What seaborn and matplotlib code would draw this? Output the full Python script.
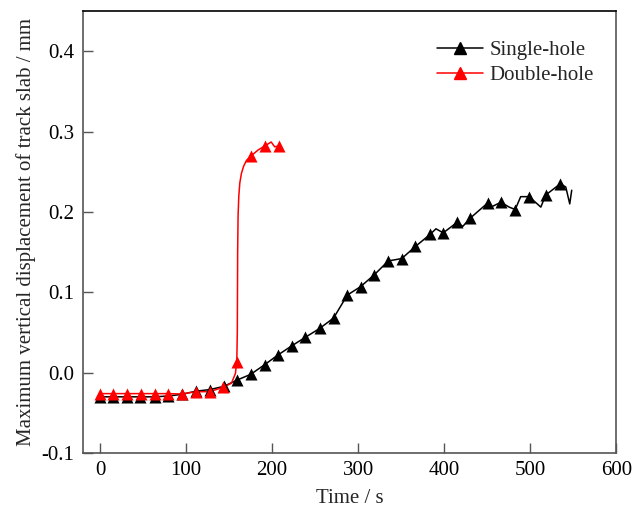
import matplotlib
matplotlib.use("Agg")
import matplotlib.pyplot as plt
import pandas as pd
import seaborn as sns
from matplotlib.lines import Line2D

# marker points (time in s, displacement in mm)
SINGLE_MARK_T = [0, 15.5, 31, 46.4, 63.8, 79.2, 94.8, 111.4, 127.6, 143.9, 159.7, 175.2,
                 191.4, 206.8, 223, 238.6, 255.2, 271.5, 287.4, 302.8, 319, 335, 350.7,
                 366.6, 383.6, 399, 415, 430, 450.5, 466, 482.6, 498.8, 518, 535]
SINGLE_MARK_D = [-0.030, -0.030, -0.030, -0.030, -0.030, -0.029, -0.027, -0.023, -0.021,
                 -0.017, -0.009, -0.002, 0.010, 0.022, 0.0335, 0.044, 0.055, 0.068, 0.0965,
                 0.107, 0.122, 0.139, 0.142, 0.157, 0.172, 0.174, 0.187, 0.192, 0.211,
                 0.212, 0.203, 0.219, 0.221, 0.235]
# extra points on the curve between markers (wiggles, tail)
SINGLE_EXTRA_T = [390.5, 421.7, 454.4, 475.6, 489, 512.4, 541.4, 546, 548.3]
SINGLE_EXTRA_D = [0.179, 0.182, 0.206, 0.206, 0.219, 0.206, 0.231, 0.210, 0.227]

DOUBLE_MARK_T = [0, 15.5, 31, 47.2, 63.8, 79.2, 94.8, 111.4, 127.6, 143.5, 159, 176, 191.4, 208]
DOUBLE_MARK_D = [-0.026, -0.026, -0.026, -0.026, -0.026, -0.026, -0.0265, -0.0236, -0.0236,
                 -0.018, 0.0137, 0.270, 0.282, 0.282]
DOUBLE_EXTRA_T = [152.8, 157.4, 159.6, 160.0, 160.5, 161.3, 162.5, 164.4, 167, 170.2,
                  183.7, 199, 203, 210]
DOUBLE_EXTRA_D = [-0.013, -0.001, 0.05, 0.15, 0.195, 0.219, 0.236, 0.248, 0.257, 0.264,
                  0.277, 0.287, 0.281, 0.282]

SERIES_NAMES = ["Single-hole", "Double-hole"]
SERIES_COLORS = ["black", "#ff0000"]


def curve_frame(mark_t, mark_d, extra_t, extra_d):
    df = pd.DataFrame({"t": list(mark_t) + list(extra_t), "d": list(mark_d) + list(extra_d)})
    return df.sort_values("t").reset_index(drop=True)


sns.set_theme(style="ticks")
plt.rcParams["font.family"] = ["Liberation Serif", "DejaVu Serif"]
plt.rcParams["axes.unicode_minus"] = False

fig = plt.figure(figsize=(6.32, 5.22), dpi=100)
ax = fig.add_axes([0.131, 0.132, 0.844, 0.847])

series = [
    (SINGLE_MARK_T, SINGLE_MARK_D, SINGLE_EXTRA_T, SINGLE_EXTRA_D),
    (DOUBLE_MARK_T, DOUBLE_MARK_D, DOUBLE_EXTRA_T, DOUBLE_EXTRA_D),
]
for (mt, md, et, ed), color in zip(series, SERIES_COLORS):
    line_df = curve_frame(mt, md, et, ed)
    sns.lineplot(data=line_df, x="t", y="d", color=color, linewidth=1.1,
                 estimator=None, sort=True, ax=ax, legend=False)
    sns.scatterplot(x=mt, y=md, color=color, marker="^", s=75, linewidth=0,
                    ax=ax, legend=False, zorder=3)

ax.set_xlim(-20, 600)
ax.set_ylim(-0.1, 0.45)
ax.set_xticks([0, 100, 200, 300, 400, 500, 600])
ax.set_yticks([-0.1, 0.0, 0.1, 0.2, 0.3, 0.4])
ax.set_yticklabels(["-0.1", "0.0", "0.1", "0.2", "0.3", "0.4"])

ax.tick_params(axis="both", direction="in", length=7, width=1, colors="#555555",
               labelcolor="black", labelsize=15, pad=6)
for side in ["left", "right", "bottom"]:
    ax.spines[side].set_color("#555555")
    ax.spines[side].set_linewidth(1.2)
ax.spines["top"].set_color("black")
ax.spines["top"].set_linewidth(1.2)

ax.set_xlabel("Time / s", fontsize=15, labelpad=6)
ax.set_ylabel("Maximum vertical displacement of track slab / mm", fontsize=15, labelpad=4)

handles = [Line2D([0], [0], color=c, marker="^", markersize=8, linewidth=1.1)
           for c in SERIES_COLORS]
ax.legend(handles, SERIES_NAMES, loc="upper right", bbox_to_anchor=(0.993, 0.975),
          frameon=False, fontsize=15, handlelength=2.2, handletextpad=0.3,
          labelspacing=0.25)

fig.savefig("out.png", dpi=100)
plt.close(fig)
